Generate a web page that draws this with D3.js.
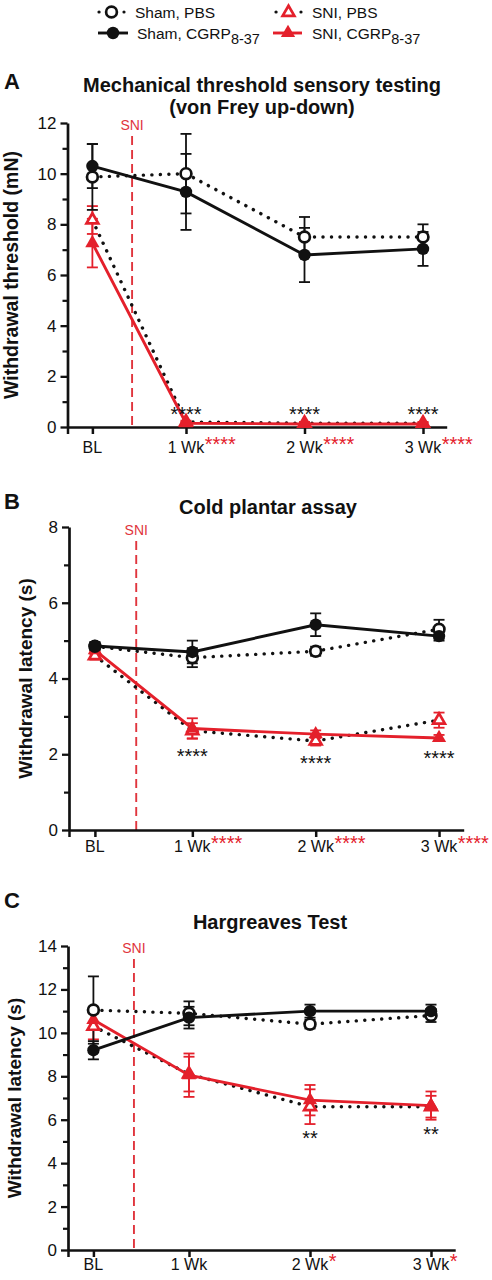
<!DOCTYPE html>
<html><head><meta charset="utf-8">
<script src="https://cdn.jsdelivr.net/npm/d3@7"></script>
<style>body{margin:0;background:#fff} svg{display:block;font-family:"Liberation Sans",Arial,Helvetica,sans-serif}</style>
</head><body><svg id="c" width="492" height="1280"></svg>
<script>
// ---------- data ----------
const categories = ["BL", "1 Wk", "2 Wk", "3 Wk"];
const weeks = [0.21, 1, 2, 3];
const sniWeek = 0.545;
const legendNames = ["Sham, PBS", "SNI, PBS", "Sham, CGRP", "SNI, CGRP"];
const legendSub = "8-37";

// Panel A
const titleA = ["Mechanical threshold sensory testing", "(von Frey up-down)"];
const yLabelA = "Withdrawal threshold (mN)";
const yTicksA = [0, 2, 4, 6, 8, 10, 12];
const shamPBS_A = [9.87, 10.0, 7.5, 7.5];
const shamPBS_A_err = [1.3, 1.57, 0.79, 0.5];
const shamCGRP_A = [10.3, 9.28, 6.79, 7.03];
const shamCGRP_A_err = [0.87, 1.5, 1.07, 0.67];
const sniPBS_A = [8.17, 0.2, 0.15, 0.15];
const sniPBS_A_err = [0.55, 0.05, 0.05, 0.05];
const sniCGRP_A = [7.26, 0.15, 0.12, 0.12];
const sniCGRP_A_err = [0.96, 0.05, 0.05, 0.05];
const starsA = ["", "****", "****", "****"];
const redStarsA = ["", "****", "****", "****"];

// Panel B
const titleB = ["Cold plantar assay"];
const yLabelB = "Withdrawal latency (s)";
const yTicksB = [0, 2, 4, 6, 8];
const shamPBS_B = [4.85, 4.55, 4.72, 5.3];
const shamPBS_B_err = [0.1, 0.25, 0.12, 0.25];
const shamCGRP_B = [4.86, 4.7, 5.42, 5.12];
const shamCGRP_B_err = [0.1, 0.3, 0.3, 0.12];
const sniPBS_B = [4.6, 2.62, 2.35, 2.9];
const sniPBS_B_err = [0.1, 0.2, 0.12, 0.2];
const sniCGRP_B = [4.75, 2.68, 2.53, 2.43];
const sniCGRP_B_err = [0.1, 0.27, 0.1, 0.08];
const starsB = ["", "****", "****", "****"];
const redStarsB = ["", "****", "****", "****"];

// Panel C
const titleC = ["Hargreaves Test"];
const yLabelC = "Withdrawal latency (s)";
const yTicksC = [0, 2, 4, 6, 8, 10, 12, 14];
const shamPBS_C = [11.05, 10.9, 10.4, 10.8];
const shamPBS_C_err = [1.55, 0.55, 0.2, 0.3];
const shamCGRP_C = [9.2, 10.7, 11.0, 11.0];
const shamCGRP_C_err = [0.42, 0.5, 0.3, 0.3];
const sniPBS_C = [10.3, 8.1, 6.6, 6.6];
const sniPBS_C_err = [0.6, 0.8, 0.8, 0.5];
const sniCGRP_C = [10.6, 8.05, 6.9, 6.65];
const sniCGRP_C_err = [0.45, 1.0, 0.7, 0.65];
const starsC = ["", "", "**", "**"];
const redStarsC = ["", "", "*", "*"];

// ---------- drawing ----------
const RED = "#e4202b", SNIRED = "#e0353d", BLACK = "#111";
const svg = d3.select("#c");

function drawMarker(g, kind, cx, cy) {
  if (kind === "openCircle") {
    g.append("circle").attr("cx", cx).attr("cy", cy).attr("r", 5.4)
      .attr("fill", "#fff").attr("stroke", BLACK).attr("stroke-width", 2.7);
  } else if (kind === "filledCircle") {
    g.append("circle").attr("cx", cx).attr("cy", cy).attr("r", 6.2)
      .attr("fill", BLACK);
  } else if (kind === "openTriangle") {
    g.append("path").attr("d", d3.symbol(d3.symbolTriangle, 60)())
      .attr("transform", `translate(${cx},${cy})`)
      .attr("fill", "#fff").attr("stroke", RED).attr("stroke-width", 2.7);
  } else {
    g.append("path").attr("d", d3.symbol(d3.symbolTriangle, 88)())
      .attr("transform", `translate(${cx},${cy})`).attr("fill", RED);
  }
}

function panel(p) {
  const g = svg.append("g");
  const x = d3.scaleLinear().domain([0, 3.2]).range([p.x0, p.x1]);
  const y = d3.scaleLinear().domain([0, p.yMax]).range([p.y0, p.yTop]);

  g.append("text").attr("x", 4).attr("y", p.letterY).attr("font-size", 22)
    .attr("font-weight", "bold").attr("fill", BLACK).text(p.letter);
  p.title.forEach((t, i) => g.append("text").attr("x", p.titleX).attr("y", p.titleY + i * 22)
    .attr("text-anchor", "middle").attr("font-size", 20).attr("font-weight", "bold")
    .attr("fill", BLACK).text(t));
  g.append("text")
    .attr("transform", `translate(${p.yLabelX},${(p.y0 + p.yTop) / 2}) rotate(-90)`)
    .attr("text-anchor", "middle").attr("font-size", p.yLabelSize).attr("font-weight", "bold")
    .attr("fill", BLACK).text(p.yLabel);

  // SNI marker
  g.append("line").attr("x1", x(sniWeek)).attr("x2", x(sniWeek))
    .attr("y1", p.sniY + 6).attr("y2", p.y0)
    .attr("stroke", SNIRED).attr("stroke-width", 1.9).attr("stroke-dasharray", "9,5");
  g.append("text").attr("x", x(sniWeek)).attr("y", p.sniY).attr("text-anchor", "middle")
    .attr("fill", SNIRED).attr("font-size", 14).text("SNI");

  // y axis
  const minor = d3.range(1, p.yMax, 2);
  g.append("g").attr("transform", `translate(${p.x0},0)`)
    .call(d3.axisLeft(y).tickValues(minor).tickSize(5).tickFormat("").tickSizeOuter(0))
    .call(a => a.select(".domain").remove())
    .call(a => a.selectAll("line").attr("stroke", BLACK).attr("stroke-width", 2.2));
  g.append("g").attr("transform", `translate(${p.x0},0)`)
    .call(d3.axisLeft(y).tickValues(p.yTicks).tickSize(7).tickPadding(4).tickSizeOuter(0))
    .call(a => a.select(".domain").attr("stroke", BLACK).attr("stroke-width", 2.7))
    .call(a => a.selectAll("line").attr("stroke", BLACK).attr("stroke-width", 2.3))
    .call(a => a.selectAll("text").attr("font-size", 17).attr("fill", BLACK)
      .attr("font-family", "Liberation Sans, Arial, sans-serif"));

  // x axis
  g.append("g").attr("transform", `translate(0,${p.y0})`)
    .call(d3.axisBottom(x).tickValues([0].concat(weeks)).tickSize(7).tickFormat("").tickSizeOuter(0))
    .call(a => a.select(".domain").attr("stroke", BLACK).attr("stroke-width", 2.7))
    .call(a => a.selectAll("line").attr("stroke", BLACK).attr("stroke-width", 2.5));
  categories.forEach((c, i) => {
    const t = g.append("text").attr("x", x(weeks[i])).attr("y", p.y0 + p.labelDy)
      .attr("text-anchor", "middle").attr("font-size", 16).attr("fill", BLACK).text(c);
    if (p.redStars[i]) {
      const w = t.node().getComputedTextLength();
      g.append("text").attr("x", x(weeks[i]) + w / 2 + 0.5).attr("y", p.y0 + p.labelDy - 2)
        .attr("font-size", 20).attr("fill", RED).text(p.redStars[i]);
    }
  });

  const series = [
    { v: p.sniPBS, e: p.sniPBS_err, dotted: true, color: RED, marker: "openTriangle" },
    { v: p.sniCGRP, e: p.sniCGRP_err, dotted: false, color: RED, marker: "filledTriangle" },
    { v: p.shamPBS, e: p.shamPBS_err, dotted: true, color: BLACK, marker: "openCircle" },
    { v: p.shamCGRP, e: p.shamCGRP_err, dotted: false, color: BLACK, marker: "filledCircle" }
  ];
  const line = d3.line().x((d, i) => x(weeks[i])).y(d => y(d));
  series.forEach(s => {
    const path = g.append("path").datum(s.v).attr("d", line).attr("fill", "none");
    if (s.dotted) path.attr("stroke", BLACK).attr("stroke-width", 3.4)
      .attr("stroke-linecap", "round").attr("stroke-dasharray", "0.1,8.4");
    else path.attr("stroke", s.color).attr("stroke-width", 2.9);
  });
  series.forEach(s => {
    s.v.forEach((v, i) => {
      const cx = x(weeks[i]);
      const lo = y(v - s.e[i]), hi = y(v + s.e[i]);
      g.append("line").attr("x1", cx).attr("x2", cx).attr("y1", lo).attr("y2", hi)
        .attr("stroke", s.color).attr("stroke-width", 1.8);
      [lo, hi].forEach(yy => g.append("line").attr("x1", cx - 5.5).attr("x2", cx + 5.5)
        .attr("y1", yy).attr("y2", yy).attr("stroke", s.color).attr("stroke-width", 1.8));
    });
  });
  series.forEach(s => s.v.forEach((v, i) => drawMarker(g, s.marker, x(weeks[i]), y(v))));

  // significance asterisks
  p.stars.forEach((st, i) => {
    if (!st) return;
    let yy;
    if (p.starsAbove) yy = p.y0 - 6;
    else {
      const lows = series.map(s => s.v[i] - s.e[i]);
      yy = y(d3.min(lows)) + p.starGap;
    }
    g.append("text").attr("x", x(weeks[i])).attr("y", yy).attr("text-anchor", "middle")
      .attr("font-size", 20).attr("fill", BLACK).text(st);
  });
}

// legend
(function legend() {
  const g = svg.append("g");
  // row 1
  g.append("line").attr("x1", 99).attr("x2", 124).attr("y1", 12).attr("y2", 12)
    .attr("stroke", BLACK).attr("stroke-width", 3.2).attr("stroke-linecap", "round")
    .attr("stroke-dasharray", "0.1,12.4");
  drawMarker(g, "openCircle", 111.5, 12);
  g.append("text").attr("x", 135).attr("y", 17.5).attr("font-size", 15.5).attr("fill", BLACK).text(legendNames[0]);
  g.append("line").attr("x1", 276).attr("x2", 301).attr("y1", 12).attr("y2", 12)
    .attr("stroke", BLACK).attr("stroke-width", 3.2).attr("stroke-linecap", "round")
    .attr("stroke-dasharray", "0.1,12.4");
  drawMarker(g, "openTriangle", 288.5, 12.5);
  g.append("text").attr("x", 312).attr("y", 17.5).attr("font-size", 15.5).attr("fill", BLACK).text(legendNames[1]);
  // row 2
  g.append("line").attr("x1", 98).attr("x2", 128).attr("y1", 33).attr("y2", 33)
    .attr("stroke", BLACK).attr("stroke-width", 2.9);
  drawMarker(g, "filledCircle", 113, 33);
  const t1 = g.append("text").attr("x", 137).attr("y", 39).attr("font-size", 15.5).attr("fill", BLACK);
  t1.append("tspan").text(legendNames[2]);
  t1.append("tspan").attr("dy", 5).attr("font-size", 14.5).text(legendSub);
  g.append("line").attr("x1", 273).attr("x2", 302).attr("y1", 33).attr("y2", 33)
    .attr("stroke", RED).attr("stroke-width", 2.9);
  drawMarker(g, "filledTriangle", 288, 33);
  const t2 = g.append("text").attr("x", 312).attr("y", 39).attr("font-size", 15.5).attr("fill", BLACK);
  t2.append("tspan").text(legendNames[3]);
  t2.append("tspan").attr("dy", 5).attr("font-size", 14.5).text(legendSub);
})();

panel({
  letter: "A", letterY: 89, title: titleA, titleX: 262, titleY: 92, yLabel: yLabelA, yLabelX: 18, yLabelSize: 19.5,
  x0: 67.5, x1: 446.7, y0: 427, yTop: 123, yMax: 12, yTicks: yTicksA, sniY: 130, labelDy: 26,
  shamPBS: shamPBS_A, shamPBS_err: shamPBS_A_err, shamCGRP: shamCGRP_A, shamCGRP_err: shamCGRP_A_err,
  sniPBS: sniPBS_A, sniPBS_err: sniPBS_A_err, sniCGRP: sniCGRP_A, sniCGRP_err: sniCGRP_A_err,
  stars: starsA, redStars: redStarsA, starsAbove: true
});
panel({
  letter: "B", letterY: 509, title: titleB, titleX: 268, titleY: 514, yLabel: yLabelB, yLabelX: 32, yLabelSize: 19,
  x0: 69, x1: 463.7, y0: 830, yTop: 527, yMax: 8, yTicks: yTicksB, sniY: 535, labelDy: 22,
  shamPBS: shamPBS_B, shamPBS_err: shamPBS_B_err, shamCGRP: shamCGRP_B, shamCGRP_err: shamCGRP_B_err,
  sniPBS: sniPBS_B, sniPBS_err: sniPBS_B_err, sniCGRP: sniCGRP_B, sniCGRP_err: sniCGRP_B_err,
  stars: starsB, redStars: redStarsB, starsAbove: false, starGap: 24
});
panel({
  letter: "C", letterY: 908, title: titleC, titleX: 270, titleY: 929, yLabel: yLabelC, yLabelX: 21, yLabelSize: 19,
  x0: 68, x1: 455.2, y0: 1250, yTop: 946, yMax: 14, yTicks: yTicksC, sniY: 953, labelDy: 20,
  shamPBS: shamPBS_C, shamPBS_err: shamPBS_C_err, shamCGRP: shamCGRP_C, shamCGRP_err: shamCGRP_C_err,
  sniPBS: sniPBS_C, sniPBS_err: sniPBS_C_err, sniCGRP: sniCGRP_C, sniCGRP_err: sniCGRP_C_err,
  stars: starsC, redStars: redStarsC, starsAbove: false, starGap: 21
});
</script></body></html>
